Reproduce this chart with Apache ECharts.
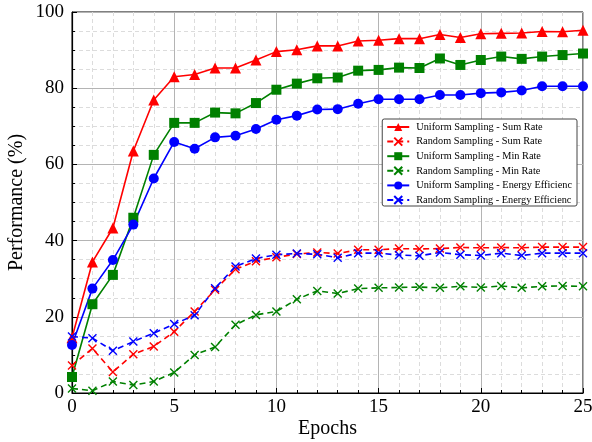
<!DOCTYPE html>
<html>
<head>
<meta charset="utf-8">
<script src="https://cdn.jsdelivr.net/npm/echarts@6/dist/echarts.min.js"></script>
<style>
  html, body { margin: 0; padding: 0; background: #fff; }
  #chart { width: 592px; height: 442px; }
</style>
</head>
<body>
<div id="chart"></div>
<script>
const epochs = [0, 1, 2, 3, 4, 5, 6, 7, 8, 9, 10, 11, 12, 13, 14, 15, 16, 17, 18, 19, 20, 21, 22, 23, 24, 25];
const uniformSum = [14.5, 34.4, 43.3, 63.5, 76.9, 83.0, 83.6, 85.3, 85.3, 87.4, 89.6, 90.1, 91.1, 91.1, 92.4, 92.6, 93.0, 93.0, 94.1, 93.3, 94.3, 94.4, 94.5, 94.9, 94.8, 95.2];
const randomSum = [7.2, 11.7, 5.5, 10.2, 12.2, 16.1, 21.4, 27.1, 32.5, 34.6, 35.6, 36.5, 36.9, 36.6, 37.6, 37.6, 37.9, 37.8, 37.9, 38.2, 38.1, 38.2, 38.1, 38.3, 38.3, 38.3];
const uniformMin = [4.2, 23.3, 31.0, 46.0, 62.5, 70.9, 70.9, 73.6, 73.4, 76.1, 79.6, 81.2, 82.6, 82.8, 84.6, 84.8, 85.4, 85.3, 87.8, 86.1, 87.4, 88.3, 87.7, 88.3, 88.7, 89.1];
const randomMin = [1.2, 0.6, 3.0, 2.1, 3.0, 5.4, 10.0, 12.1, 17.9, 20.5, 21.4, 24.6, 26.8, 26.1, 27.4, 27.6, 27.7, 27.8, 27.6, 28.0, 27.7, 28.1, 27.6, 28.0, 28.1, 28.0];
const uniformEE = [12.6, 27.4, 34.9, 44.2, 56.3, 65.9, 64.1, 67.1, 67.5, 69.3, 71.7, 72.8, 74.4, 74.5, 75.9, 77.1, 77.1, 77.1, 78.2, 78.2, 78.7, 78.9, 79.4, 80.5, 80.5, 80.5];
const randomEE = [14.8, 14.4, 11.1, 13.5, 15.7, 18.1, 20.4, 27.5, 33.2, 35.3, 36.3, 36.6, 36.4, 35.5, 36.7, 36.7, 36.2, 36.0, 36.9, 36.3, 36.1, 36.7, 36.1, 36.7, 36.7, 36.7];
const xTicks = [0, 5, 10, 15, 20, 25];
const yTicks = [0, 20, 40, 60, 80, 100];

const serif = "'Liberation Serif', 'DejaVu Serif', serif";
const crossSymbol = "path://M0,0L10,10M10,0L0,10";

// one series: solid uniform with filled marker, dashed random with x marker
function mkSeries(name, values, color, dashed, symbol, size) {
  return {
    name: name,
    type: "line",
    data: epochs.map((e, i) => [e, values[i]]),
    symbol: symbol,
    symbolSize: size,
    clip: false,
    lineStyle: { color: color, width: 1.6, type: dashed ? [6, 4] : "solid" },
    itemStyle: {
      color: color,
      borderColor: color,
      borderWidth: dashed ? 1.4 : 0,
    },
    emphasis: { disabled: true },
  };
}

const myChart = echarts.init(document.getElementById("chart"));
const option = {
  animation: false,
  textStyle: { fontFamily: serif },
  grid: {
    left: 72,
    right: 9,
    top: 12,
    bottom: 49,
    containLabel: false,
    outerBoundsMode: "none",
    show: true,
    borderColor: "#000",
    borderWidth: 1,
  },
  legend: {
    orient: "vertical",
    right: 15,
    top: 119,
    padding: [3, 5, 1, 4],
    itemGap: 4.6,
    itemWidth: 22,
    itemHeight: 10,
    backgroundColor: "#fff",
    borderColor: "#444",
    borderWidth: 1,
    borderRadius: 2,
    textStyle: { fontFamily: serif, fontSize: 10.3, color: "#000", lineHeight: 10, padding: [0, 0, 0, 2] },
    formatter: (n) => n.replace("Efficiency", "Efficienc"),
  },
  xAxis: {
    type: "value",
    min: xTicks[0],
    max: xTicks[xTicks.length - 1],
    interval: 5,
    name: "Epochs",
    nameLocation: "middle",
    nameGap: 26,
    nameMoveOverlap: false,
    nameTextStyle: { fontFamily: serif, fontSize: 20, color: "#000" },
    axisLine: { onZero: false, lineStyle: { color: "#000", width: 1.2 } },
    axisTick: { inside: true, length: 5, lineStyle: { color: "#000" } },
    minorTick: { show: true, splitNumber: 5, length: 3, lineStyle: { color: "#000" } },
    axisLabel: { fontFamily: serif, fontSize: 19, color: "#000", margin: 5 },
    splitLine: { show: true, lineStyle: { color: "#b4b4b4", width: 1 } },
    minorSplitLine: { show: true, lineStyle: { color: "#dcdcdc", width: 1, type: [4, 3] } },
  },
  yAxis: {
    type: "value",
    min: yTicks[0],
    max: yTicks[yTicks.length - 1],
    interval: 20,
    name: "Performance (%)",
    nameLocation: "middle",
    nameGap: 45,
    nameMoveOverlap: false,
    nameTextStyle: { fontFamily: serif, fontSize: 20, color: "#000" },
    axisLine: { show: true, onZero: false, lineStyle: { color: "#000", width: 1.2 } },
    axisTick: { show: true, inside: true, length: 5, lineStyle: { color: "#000" } },
    minorTick: { show: true, splitNumber: 4, length: 3, lineStyle: { color: "#000" } },
    axisLabel: { fontFamily: serif, fontSize: 19, color: "#000", margin: 8 },
    splitLine: { show: true, lineStyle: { color: "#b4b4b4", width: 1 } },
    minorSplitLine: { show: true, lineStyle: { color: "#dcdcdc", width: 1, type: [4, 3] } },
  },
  series: [
    mkSeries("Uniform Sampling - Sum Rate", uniformSum, "#ff0000", false, "triangle", 11),
    mkSeries("Random Sampling - Sum Rate", randomSum, "#ff0000", true, crossSymbol, 8),
    mkSeries("Uniform Sampling - Min Rate", uniformMin, "#008000", false, "rect", 10),
    mkSeries("Random Sampling - Min Rate", randomMin, "#008000", true, crossSymbol, 8),
    mkSeries("Uniform Sampling - Energy Efficiency", uniformEE, "#0000ff", false, "circle", 10),
    mkSeries("Random Sampling - Energy Efficiency", randomEE, "#0000ff", true, crossSymbol, 8),
  ],
};
myChart.setOption(option);
window.addEventListener("resize", () => myChart.resize());
</script>
</body>
</html>
